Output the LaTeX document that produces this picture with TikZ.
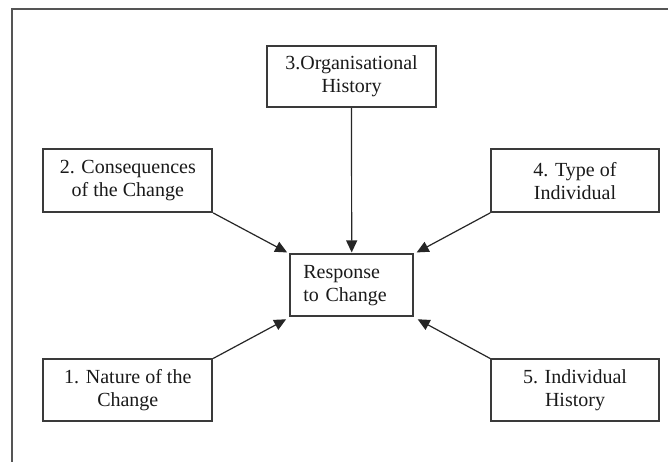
\documentclass[tikz,border=0pt]{standalone}
\usepackage{fontspec}
\setmainfont{Liberation Serif}
\usetikzlibrary{arrows.meta,calc}
\definecolor{boxc}{HTML}{3A3A3A}
\definecolor{framec}{HTML}{555555}
\definecolor{txtc}{HTML}{1A1A1A}
\begin{document}
\begin{tikzpicture}[x=1bp,y=-1bp,
  box/.style={draw=boxc, line width=1.8bp, rectangle, inner sep=0pt, align=center,
    font=\fontsize{20bp}{23bp}\selectfont, text=txtc},
  sbox/.style={box, minimum width=169bp, minimum height=62bp},
  conn/.style={draw=black!85, line width=1.2bp, -{Triangle[length=12bp,width=11bp]}}]
\useasboundingbox (0,0) rectangle (668,462);
\fill[white] (0,0) rectangle (668,462);
\draw[framec, line width=2bp] (11.7,462) -- (11.7,9) -- (668,9);

\node[sbox, minimum height=61bp] (b3) at (351.5,76.5) {3.Organisational\\History};
\node[sbox, minimum height=62.7bp] (b2) at (127.8,180.7) {2. Consequences\\of the Change};
\node[sbox, minimum width=168bp, minimum height=62.7bp] (b4) at (575,180.7) {4. Type of\\Individual};
\node[sbox, minimum height=61.7bp] (b1) at (127.8,390.2) {1. Nature of the\\Change};
\node[sbox, minimum width=168bp, minimum height=61.7bp] (b5) at (575,390.2) {5. Individual\\History};
\node[box, align=left, text width=96.7bp, inner xsep=13.3bp, minimum height=61.7bp] (resp) at (351.7,285.2) {Response\\to Change};

\draw[conn] (b3.south) -- ($(resp.north)+(0,-1)$);
\draw[conn] (b2.south east) -- ($(resp.north west)+(-2,-1)$);
\draw[conn] (b4.south west) -- ($(resp.north east)+(2.4,-1)$);
\draw[conn] (b1.north east) -- ($(resp.south west)+(-3,2.3)$);
\draw[conn] (b5.north west) -- ($(resp.south east)+(3.4,2.3)$);
\end{tikzpicture}
\end{document}
